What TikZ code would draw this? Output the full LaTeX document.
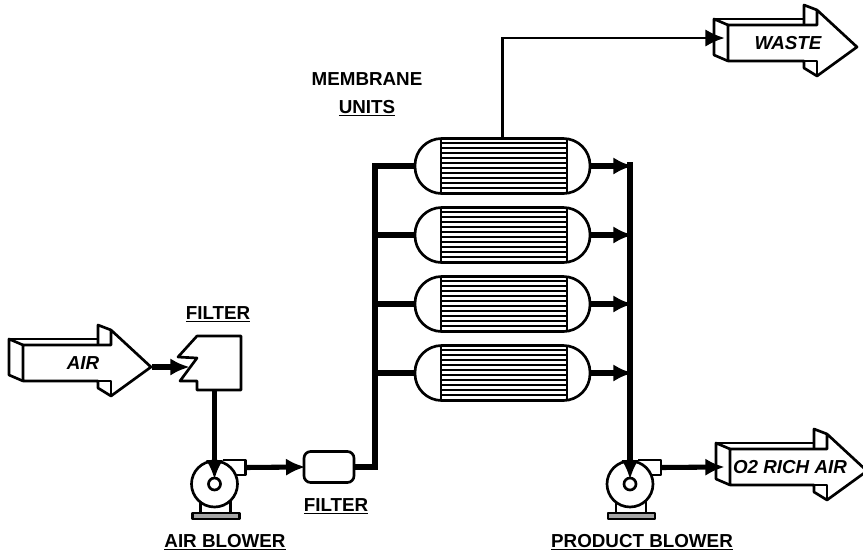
\documentclass[tikz,border=0pt]{standalone}
\usepackage{fontspec}
\setmainfont{Liberation Sans}
\usetikzlibrary{arrows.meta}
\tikzset{
  outline/.style={line width=2pt, line join=round},
  unitbox/.style={draw, outline, rounded corners=20pt, minimum width=131.25pt, minimum height=41.25pt, inner sep=0pt},
  filterbox/.style={draw, outline, rounded corners=5pt, minimum width=37.5pt, minimum height=23.25pt, inner sep=0pt},
  blowerbody/.style={draw, outline, circle, minimum size=34.5pt, inner sep=0pt},
  blowerhub/.style={draw, line width=2pt, circle, minimum size=9pt, inner sep=0pt},
  tubeline/.style={line width=1.2pt},
  mainline/.style={line width=4.4pt},
  tipped/.style={-{Latex[length=14.5pt,width=13pt]}, shorten >=-2pt},
  flowline/.style={line width=3.8pt, tipped},
  thinflow/.style={line width=1.7pt, tipped},
  lbl/.style={font=\bfseries\fontsize{14.1}{21}\selectfont, inner sep=0pt, align=center},
  streamlbl/.style={font=\bfseries\itshape\fontsize{14.1}{17}\selectfont, inner sep=0pt}
}
% big open arrow for a stream: name, front x, centre y, length to head, text
\newcommand{\streamarrow}[5]{
  \begin{scope}[shift={(#2,#3)}]
    \draw[outline] (0,-18) -- (0,18) -- (#4-13,18) -- (#4-13,25) -- (#4,33) -- (#4+40,4) -- (#4,-33) -- (#4,-18) -- cycle;
    \draw[outline] (0,18) -- (#4,18) -- (#4,33);
    \draw[outline] (0,-18) -- (-14,-24) -- (-14,12) -- (0,18);
    \draw[outline] (-14,-24) -- (#4-13,-24);
    \draw[outline] (#4-13,-18) -- (#4-13,-38) -- (#4,-33);
    \node[streamlbl] (#1) at (60,0) {#5};
  \end{scope}
}
\begin{document}
\begin{tikzpicture}[x=0.75pt, y=-0.75pt]
  \useasboundingbox (0,0) rectangle (863,554);

  % streams
  \streamarrow{air}{23}{363}{88}{AIR}
  \streamarrow{waste}{728}{43}{89}{WASTE}
  \streamarrow{richair}{730}{467}{97}{O2 RICH AIR}
  \coordinate (airout) at (152,367);
  \coordinate (wastein) at (722,38);
  \coordinate (richin) at (722,467);

  % inlet filter
  \draw[outline] (197,336) -- (241,336) -- (241,390) -- (197,390) -- (197,381) -- (180,381) -- (197,358) -- (178,357) -- cycle;
  \coordinate (filterin) at (187,367);
  \coordinate (filterout) at (214.5,390);

  % blowers
  \foreach \n/\x in {airblower/214.5, prodblower/630} {
    \draw[outline] (\x-14,500) -- (\x-14,513) (\x+16,500) -- (\x+16,513);
    \draw[outline, fill=gray!70] (\x-22,513) rectangle (\x+25,519);
    \draw[outline, fill=white] (\x+8,460) -- (\x+31,460) -- (\x+31,475) -- (\x+19,475);
    \node[blowerbody, fill=white] (\n) at (\x,484) {};
    \node[blowerhub] (\n hub) at (\x,484) {};
    \coordinate (\n out) at (\x+31,467.5);
  }

  % second filter
  \node[filterbox] (filtertwo) at (329,467) {};

  % membrane units
  \foreach \i/\y in {1/166, 2/235, 3/304, 4/373} {
    \node[unitbox] (unit\i) at (502.5,\y) {};
    \draw[outline] (441,\y-27.5) -- (441,\y+27.5) (567,\y-27.5) -- (567,\y+27.5);
    \foreach \d in {-23,-18,...,23} { \draw[tubeline] (441,\y+\d) -- (567,\y+\d); }
  }
  \coordinate (feedtop) at (375,166);
  \coordinate (collecttop) at (630,162);

  % connectors
  \draw[flowline] (airout) -- (filterin);
  \draw[mainline, tipped] (filterout) -- (airblowerhub.north);
  \draw[flowline] (airblowerout) -- (filtertwo.west);
  \draw[mainline, line join=miter] (filtertwo.east) -| (feedtop) -- (unit1.west);
  \foreach \i in {2,3,4} { \draw[mainline] (unit\i.west -| feedtop) -- (unit\i.west); }
  \foreach \i in {1,2,3,4} { \draw[flowline] (unit\i.east) -- (unit\i.east -| collecttop); }
  \draw[mainline, tipped] (collecttop) -- (prodblowerhub.north);
  \draw[flowline] (prodblowerout) -- (richin);
  \draw[thinflow] (unit1.north) |- (wastein);

  % labels
  \node[lbl] (filterlabel) at (218,314.5) {\underline{FILTER}};
  \node[lbl] (airblowerlabel) at (225,542) {\underline{AIR BLOWER}};
  \node[lbl] (filtertwolabel) at (336,506) {\underline{FILTER}};
  \node[lbl] (unitslabel) at (367,94.5) {MEMBRANE\\\underline{UNITS}};
  \node[lbl] (prodblowerlabel) at (642,542) {\underline{PRODUCT BLOWER}};
\end{tikzpicture}
\end{document}
